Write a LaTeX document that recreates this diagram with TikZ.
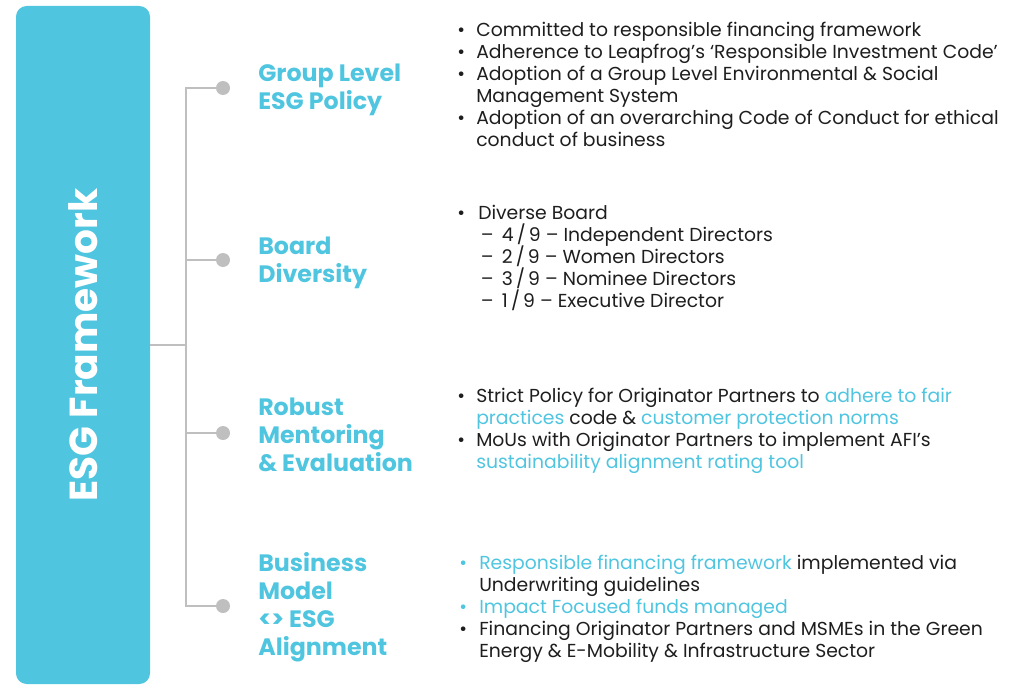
\documentclass[tikz,border=0pt]{standalone}
\usepackage{fontspec}
\setmainfont{Poppins}
\usepackage{xcolor}
\usepackage{tikz}
\usetikzlibrary{positioning, calc}
\definecolor{esgblue}{RGB}{79, 197, 224}
\definecolor{treegray}{RGB}{191, 191, 191}
\definecolor{bodytext}{RGB}{30, 30, 30}
\newcommand{\esghl}[1]{\textcolor{esgblue}{#1}}
\newcommand{\boarddash}{\hspace*{2pt}\makebox[15.75pt][l]{--}}
\newcommand{\ofnine}[1]{#1\,\smash{/}\,9}
\tikzstyle{frame} = [
    rectangle, 
    rounded corners=8pt, 
    minimum width=100.5pt, 
    minimum height=508.5pt, 
    inner sep=0pt,
    fill=esgblue
]
\tikzstyle{heading} = [
    anchor=west, 
    align=left, 
    inner sep=0pt, 
    text=esgblue,
    font=\fontsize{17.8}{21}\selectfont\bfseries
]
\tikzstyle{details} = [
    anchor=west, 
    inner sep=0pt, 
    text=bodytext,
    font=\fontsize{14.1}{16.5}\selectfont
]
\tikzstyle{tree} = [
    draw=treegray, 
    line width=1.1pt
]
\tikzstyle{knob} = [
    circle, 
    minimum size=10.5pt, 
    inner sep=0pt, 
    fill=treegray
]

\begin{document}
\begin{tikzpicture}[x=0.75pt, y=-0.75pt]
        \useasboundingbox (0,0) rectangle (1023,685);

        % Framework Box
        \node[frame] (esg) at (83, 345) {};
        \node[rotate=90, text=white, font=\fontsize{29.3}{34}\selectfont\bfseries] (title) at (esg.center) {ESG Framework};

        % Tree
        \coordinate (spine) at (186, 345);
        \node[knob] (dotgroup) at (223, 88) {};
        \node[knob] (dotboard) at (223, 260) {};
        \node[knob] (dotrobust) at (223, 433) {};
        \node[knob] (dotbusiness) at (223, 606) {};
        \draw[tree] (esg) -- (spine);
        \draw[tree] (dotgroup) -| (spine) |- (dotbusiness);
        \draw[tree] (dotboard) -- (dotboard -| spine);
        \draw[tree] (dotrobust) -- (dotrobust -| spine);

        % Headings
        \node[heading] (group) at (258, 90) {Group Level\\ESG Policy};
        \node[heading] (board) at (258, 263) {Board\\Diversity};
        \node[heading] (robust) at (258, 435) {Robust\\Mentoring\\\& Evaluation};
        \node[heading] (business) at (258, 607) {Business\\Model\\<> ESG\\Alignment};

        % Details
        \node[details] (groupinfo) at (457, 87) {\begin{tabular}{@{}p{14.25pt}@{}l@{}}
            \textbullet & Committed to responsible financing framework\\
            \textbullet & Adherence to Leapfrog’s ‘Responsible Investment Code’\\
            \textbullet & Adoption of a Group Level Environmental \& Social\\
                        & Management System\\
            \textbullet & Adoption of an overarching Code of Conduct for ethical\\
                        & conduct of business
        \end{tabular}};
        \node[details] (boardinfo) at (457, 259) {\begin{tabular}{@{}p{15.75pt}@{}l@{}}
            \textbullet & Diverse Board\\
                        & \boarddash \ofnine{4} -- Independent Directors\\
                        & \boarddash \ofnine{2} -- Women Directors\\
                        & \boarddash \ofnine{3} -- Nominee Directors\\
                        & \boarddash \ofnine{1} -- Executive Director
        \end{tabular}};
        \node[details] (robustinfo) at (457, 431) {\begin{tabular}{@{}p{14.25pt}@{}l@{}}
            \textbullet & Strict Policy for Originator Partners to \esghl{adhere to fair}\\
                        & \esghl{practices} code \& \esghl{customer protection norms}\\
            \textbullet & MoUs with Originator Partners to implement AFI’s\\
                        & \esghl{sustainability alignment rating tool}
        \end{tabular}};
        \node[details] (businessinfo) at (459, 609) {\begin{tabular}{@{}p{15pt}@{}l@{}}
            \esghl{\textbullet} & \esghl{Responsible financing framework} implemented via\\
                                & Underwriting guidelines\\
            \esghl{\textbullet} & \esghl{Impact Focused funds managed}\\
            \textbullet         & Financing Originator Partners and MSMEs in the Green\\
                                & Energy \& E-Mobility \& Infrastructure Sector
        \end{tabular}};
    \end{tikzpicture}
\end{document}
